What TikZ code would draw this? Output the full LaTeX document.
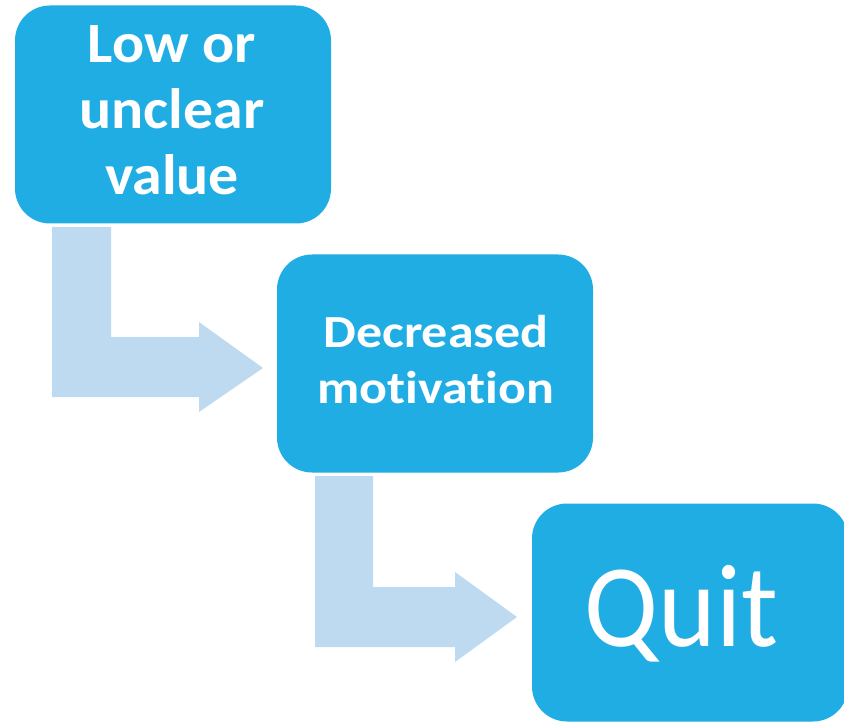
\documentclass[tikz,border=0pt]{standalone}
\usepackage{fontspec}
\setmainfont{Carlito}[Ligatures=NoCommon]
\newfontfamily\valuefont{Carlito}[Ligatures=NoCommon, FakeStretch=1.05]
\newfontfamily\motivfont{Carlito}[Ligatures=NoCommon, FakeStretch=1.13]
\newfontfamily\quitfont{Carlito}[Ligatures=NoCommon, FakeStretch=0.93]
\definecolor{boxblue}{HTML}{1FADE4}
\definecolor{arrowblue}{HTML}{BDDAF1}
\begin{document}
\begin{tikzpicture}[x=1pt,y=-1pt,
  stepbox/.style={fill=boxblue, rounded corners=35pt, minimum width=316pt,
    minimum height=218pt, inner sep=0pt},
  steptext/.style={text=white, align=center, inner sep=0pt},
  bentarrow/.style={fill=arrowblue, draw=none}]
\useasboundingbox (0,0) rectangle (844,722);
\clip (0,0) rectangle (844,722);

% bent arrows between the stages
\fill[bentarrow] (52,227) -- (111,227) -- (111,337) -- (199,337) -- (199,322)
  -- (263,368) -- (199,412) -- (199,397) -- (52,397) -- cycle;
\fill[bentarrow] (315,476) -- (373,476) -- (373,587) -- (455,587) -- (455,572)
  -- (517,617) -- (455,662) -- (455,647) -- (315,647) -- cycle;

% stages
\node[stepbox] (value) at (173,114.5) {};
\node[steptext, font=\valuefont\bfseries\fontsize{57}{66}\selectfont]
  (valuetext) at (172,110) {Low or\\unclear\\value};

\node[stepbox] (motiv) at (435,363.5) {};
\node[steptext, font=\motivfont\bfseries\fontsize{46}{56}\selectfont]
  (motivtext) at (436,360) {Decreased\\motivation};

\node[stepbox] (quit) at (690,612.5) {};
\node[steptext, font=\quitfont\fontsize{118}{140}\selectfont]
  (quittext) at (681.5,614) {Quit};
\end{tikzpicture}
\end{document}
